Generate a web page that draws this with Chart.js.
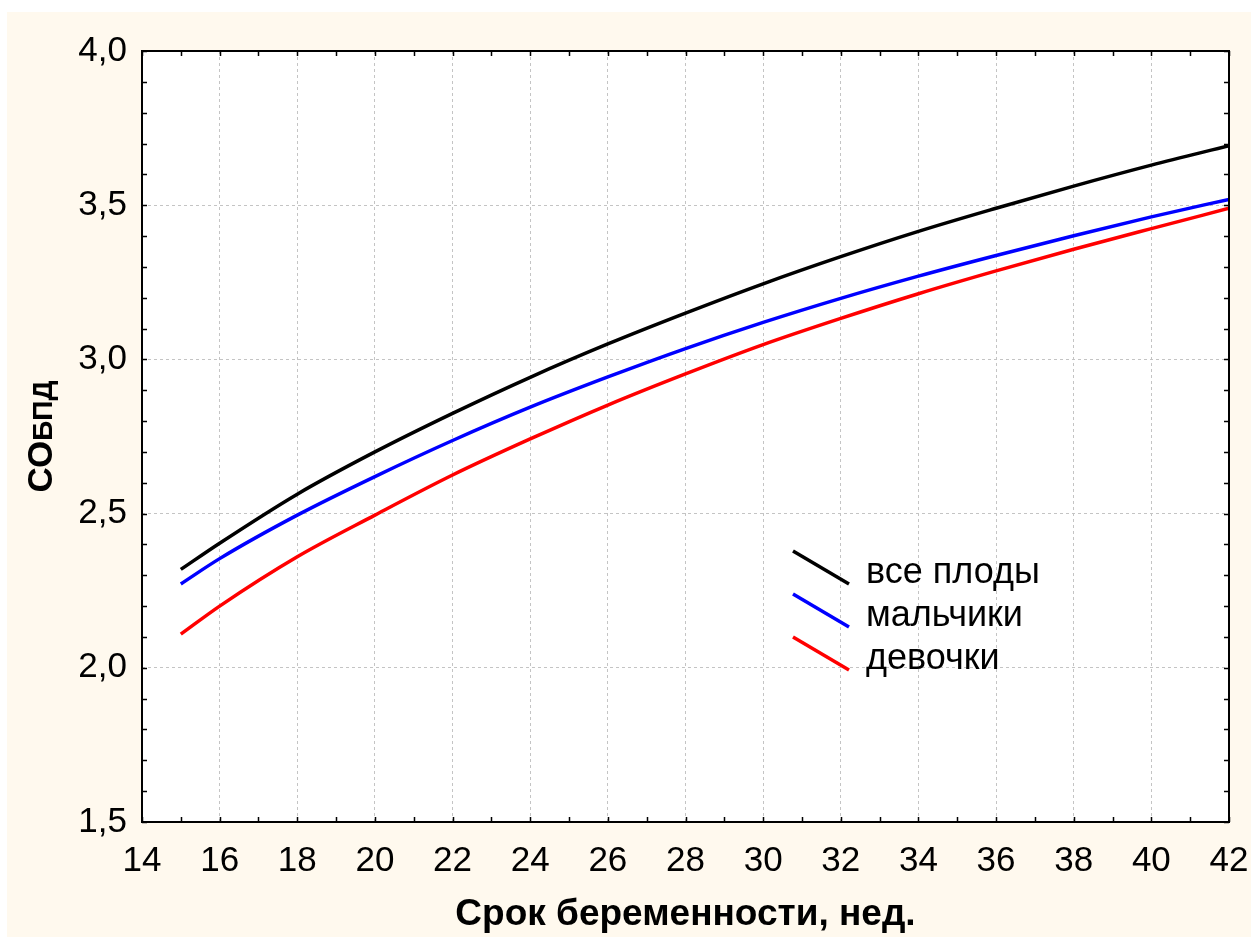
<!DOCTYPE html>
<html>
<head>
<meta charset="utf-8">
<script src="https://cdn.jsdelivr.net/npm/chart.js@4"></script>
<style>
  html, body { margin: 0; padding: 0; background: #fff; }
  canvas { display: block; }
</style>
</head>
<body>
<canvas id="myChart" width="1251" height="937"></canvas>
<script>
// gestational age, weeks
const weeks = [15, 16, 18, 20, 22, 24, 26, 28, 30, 32, 34, 36, 38, 40, 42];

// СОбпд curves
const allFetuses = [2.319, 2.404, 2.563, 2.700, 2.825, 2.942, 3.050, 3.150, 3.245, 3.333, 3.415, 3.490, 3.562, 3.630, 3.693];
const boys       = [2.272, 2.354, 2.495, 2.620, 2.737, 2.845, 2.943, 3.035, 3.120, 3.198, 3.270, 3.337, 3.401, 3.462, 3.519];
const girls      = [2.109, 2.200, 2.360, 2.495, 2.625, 2.742, 2.852, 2.953, 3.048, 3.133, 3.213, 3.287, 3.357, 3.424, 3.490];

const seriesNames = ['все плоды', 'мальчики', 'девочки'];
const seriesColors = ['#000000', '#0000ff', '#ff0000'];

const xTicks = [14, 16, 18, 20, 22, 24, 26, 28, 30, 32, 34, 36, 38, 40, 42];
const yTicks = [1.5, 2.0, 2.5, 3.0, 3.5, 4.0];

const FONT = '"Liberation Sans", Arial, sans-serif';

const toPoints = arr => weeks.map((w, i) => ({ x: w, y: arr[i] }));

// fond crème + zone blanche du graphique
const backdrop = {
    id: 'backdrop',
    beforeDraw(chart) {
        const c = chart.ctx, a = chart.chartArea;
        c.save();
        c.fillStyle = '#ffffff';
        c.fillRect(0, 0, chart.width, chart.height);
        c.fillStyle = '#fff9ee';
        c.fillRect(7, 12, chart.width - 7, chart.height - 12);
        c.fillStyle = '#ffffff';
        c.fillRect(a.left, a.top, a.right - a.left, a.bottom - a.top);
        c.restore();
    }
};

// cadre, petites graduations vers l'intérieur, titres et légende
const frame = {
    id: 'frame',
    afterDraw(chart) {
        const c = chart.ctx, a = chart.chartArea;
        const xs = chart.scales.x, ys = chart.scales.y;
        c.save();
        c.strokeStyle = '#000';
        c.lineWidth = 2;
        c.strokeRect(a.left, a.top, a.right - a.left, a.bottom - a.top);

        c.lineWidth = 1.5;
        c.beginPath();
        for (let v = 14; v <= 42; v += 1) {
            const px = Math.round(xs.getPixelForValue(v)) + 0.5;
            const len = 5;
            c.moveTo(px, a.bottom); c.lineTo(px, a.bottom - len);
            c.moveTo(px, a.top); c.lineTo(px, a.top + len);
        }
        for (let k = 15; k <= 40; k++) {
            const py = Math.round(ys.getPixelForValue(k / 10)) + 0.5;
            c.moveTo(a.left, py); c.lineTo(a.left + 5, py);
            c.moveTo(a.right, py); c.lineTo(a.right - 5, py);
        }
        c.stroke();

        // titre de l'axe X
        c.fillStyle = '#000';
        c.font = 'bold 37px ' + FONT;
        c.textAlign = 'center';
        c.textBaseline = 'alphabetic';
        c.fillText('Срок беременности, нед.', (a.left + a.right) / 2, 925);

        // titre de l'axe Y : "СО" + indice "БПД"
        c.save();
        c.translate(52, (a.top + a.bottom) / 2);
        c.rotate(-Math.PI / 2);
        c.textAlign = 'left';
        const big = 'bold 35px ' + FONT, small = 'bold 28px ' + FONT;
        c.font = big;
        const w1 = c.measureText('СО').width;
        c.font = small;
        const w2 = c.measureText('БПД').width;
        let x0 = -(w1 + w2) / 2;
        c.font = big;
        c.fillText('СО', x0, 0);
        c.font = small;
        c.fillText('БПД', x0 + w1, 0);
        c.restore();

        // légende avec traits obliques
        c.font = '36px ' + FONT;
        c.textAlign = 'left';
        chart.data.datasets.forEach((ds, i) => {
            const y0 = 551 + i * 43;
            c.strokeStyle = ds.borderColor;
            c.lineWidth = 3.5;
            c.beginPath();
            c.moveTo(793, y0);
            c.lineTo(849, y0 + 33);
            c.stroke();
            c.fillStyle = '#000';
            c.fillText(ds.label, 866, 583 + i * 43);
        });
        c.restore();
    }
};

const ctx = document.getElementById('myChart').getContext('2d');
const myChart = new Chart(ctx, {
    type: 'line',
    data: {
        datasets: [allFetuses, boys, girls].map((arr, i) => ({
            label: seriesNames[i],
            data: toPoints(arr),
            borderColor: seriesColors[i],
            borderWidth: 3.5,
            pointRadius: 0,
            fill: false,
            cubicInterpolationMode: 'monotone'
        }))
    },
    options: {
        responsive: false,
        devicePixelRatio: 1,
        animation: false,
        layout: { padding: { left: 0, top: 51, right: 22, bottom: 0 } },
        plugins: {
            legend: { display: false },
            tooltip: { enabled: false }
        },
        scales: {
            x: {
                type: 'linear',
                min: 14,
                max: 42,
                afterFit: s => { s.height = 115; s.paddingLeft = 0; s.paddingRight = 0; },
                afterBuildTicks: s => { s.ticks = xTicks.map(v => ({ value: v })); },
                ticks: {
                    color: '#000',
                    padding: 18,
                    maxRotation: 0,
                    autoSkip: false,
                    font: { family: FONT, size: 35 },
                    callback: v => String(v)
                },
                grid: { color: '#c4c4c4', lineWidth: 1, drawTicks: false },
                border: { display: false, dash: [3, 3] }
            },
            y: {
                min: 1.5,
                max: 4.0,
                afterFit: s => { s.width = 142; s.paddingTop = 0; s.paddingBottom = 0; },
                afterBuildTicks: s => { s.ticks = yTicks.map(v => ({ value: v })); },
                ticks: {
                    color: '#000',
                    padding: 15,
                    autoSkip: false,
                    font: { family: FONT, size: 35 },
                    callback: v => v.toFixed(1).replace('.', ',')
                },
                grid: { color: '#c4c4c4', lineWidth: 1, drawTicks: false },
                border: { display: false, dash: [3, 3] }
            }
        }
    },
    plugins: [backdrop, frame]
});
</script>
</body>
</html>
